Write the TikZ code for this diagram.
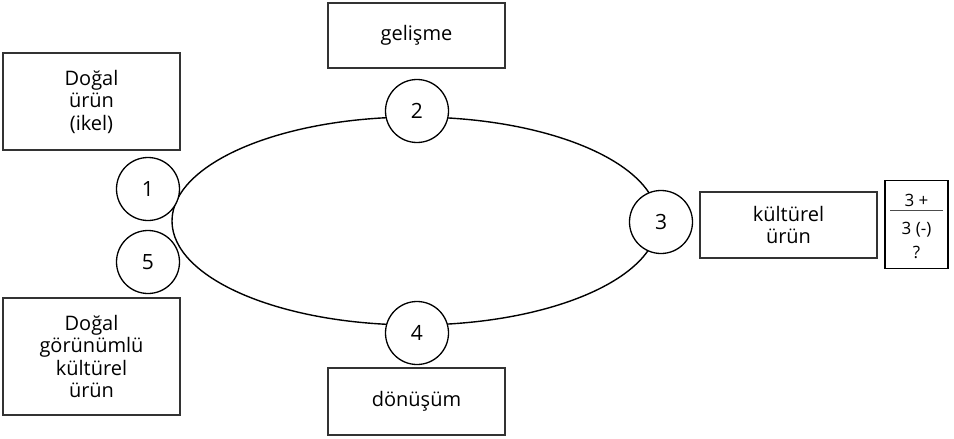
\documentclass[tikz,border=0pt]{standalone}
\usepackage{fontspec}
\setmainfont{Open Sans}
\tikzset{
  lbl/.style={draw=black!80, line width=1.4pt, minimum width=177pt, align=center, inner sep=0pt,
    font=\fontsize{20}{22.5}\selectfont},
  num/.style={draw=black, line width=1.3pt, circle, fill=white, minimum size=63pt, inner sep=0pt,
    font=\fontsize{21}{22}\selectfont},
  small/.style={inner sep=0pt, font=\fontsize{17}{18}\selectfont}
}
\begin{document}
\begin{tikzpicture}[x=1pt,y=-1pt]
\useasboundingbox (0,0) rectangle (954,439);
\node[lbl, minimum height=97pt] (b1) at (91.5,101.5) {Doğal\\ürün\\(ikel)};
\node[lbl, minimum height=117pt] (b5) at (91.5,356.5) {Doğal\\görünümlü\\kültürel\\ürün};
\node[lbl, minimum height=65pt] (b2) at (416.5,35.5) {gelişme};
\node[lbl, minimum height=67pt] (b4) at (416.5,401.5) {dönüşüm};
\node[lbl, minimum height=66pt] (b3) at (788.5,225) {kültürel\\ürün};
\node[draw=black, line width=1.5pt, minimum width=63pt, minimum height=88pt, inner sep=0pt] (fr) at (916.5,224.5) {};
\node[small] (fa) at (916.5,200.5) {3 +};
\node[small] (fb) at (916.5,230) {3 (-)};
\node[small] (fc) at (916.5,252.5) {?};
\coordinate (fl) at (890,210.5);
\coordinate (fr2) at (943,210.5);
\draw[line width=0.7pt, black!70] (fl) -- (fr2);
\draw[line width=1.4pt] (415,221) ellipse [x radius=243pt, y radius=104pt];
\node[num] (c1) at (148,189) {1};
\node[num] (c5) at (148,262) {5};
\node[num] (c2) at (417,111) {2};
\node[num] (c4) at (417,333) {4};
\node[num] (c3) at (661,222) {3};
\end{tikzpicture}
\end{document}
